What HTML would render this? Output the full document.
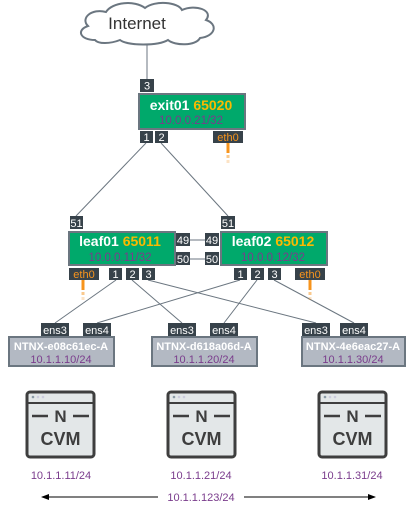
<!DOCTYPE html>
<html><head><meta charset="utf-8"><style>
html,body{margin:0;padding:0;background:#fff;}
svg{display:block;font-family:"Liberation Sans",Arial,sans-serif;}
</style></head><body>
<svg width="407" height="515" viewBox="0 0 407 515" xmlns="http://www.w3.org/2000/svg">
<defs>
<marker id="ah" markerWidth="8" markerHeight="6" refX="7" refY="3" orient="auto"><path d="M0,0 L8,3 L0,6 Z" fill="#000"/></marker>
</defs>
<path d="M95,40 C80,40 76,30 88,26 C80,18 92,8 106,12 C112,2 135,0 145,8 C155,0 178,2 182,10 C195,4 214,10 206,20 C218,24 216,36 200,38 C196,46 175,46 168,40 C158,46 128,46 120,40 C110,44 98,44 95,40 Z" fill="#fff" stroke="#6b7680" stroke-width="2"/>
<text x="137" y="29" font-size="17" fill="#333" text-anchor="middle">Internet</text>
<g stroke="#6b7680" stroke-width="1" fill="none">
<line x1="147" y1="44" x2="147" y2="80"/>
<line x1="146" y1="143" x2="76" y2="216"/>
<line x1="161" y1="143" x2="228" y2="216"/>
<line x1="190" y1="240" x2="205" y2="240"/>
<line x1="190" y1="259" x2="205" y2="259"/>
<line x1="116" y1="280" x2="55" y2="323"/>
<line x1="132" y1="280" x2="182" y2="323"/>
<line x1="148" y1="280" x2="316" y2="323"/>
<line x1="240" y1="280" x2="97" y2="323"/>
<line x1="257" y1="280" x2="224" y2="323"/>
<line x1="274" y1="280" x2="354" y2="323"/>
</g>
<g stroke="#f7941d" stroke-width="3">
<line x1="228" y1="143" x2="228" y2="153"/><line x1="228" y1="155" x2="228" y2="158" opacity="0.5"/><line x1="228" y1="160" x2="228" y2="163" opacity="0.25"/>
<line x1="83" y1="280" x2="83" y2="290"/><line x1="83" y1="292" x2="83" y2="295" opacity="0.5"/><line x1="83" y1="297" x2="83" y2="300" opacity="0.25"/>
<line x1="310" y1="280" x2="310" y2="290"/><line x1="310" y1="292" x2="310" y2="295" opacity="0.5"/><line x1="310" y1="297" x2="310" y2="300" opacity="0.25"/>
</g>
<g stroke="#6b7680" stroke-width="2" fill="#00a96b">
<rect x="139" y="94" width="106" height="35"/>
<rect x="69" y="232" width="106" height="33"/>
<rect x="221" y="232" width="106" height="33"/>
</g>
<g font-weight="bold" font-size="14" text-anchor="middle">
<text x="191" y="110"><tspan fill="#fff">exit01 </tspan><tspan fill="#fbb900">65020</tspan></text>
<text x="120" y="246"><tspan fill="#fff">leaf01 </tspan><tspan fill="#fbb900">65011</tspan></text>
<text x="273" y="246"><tspan fill="#fff">leaf02 </tspan><tspan fill="#fbb900">65012</tspan></text>
</g>
<g font-size="11.5" fill="#7a3c8c" text-anchor="middle">
<text x="191" y="124">10.0.0.21/32</text>
<text x="120" y="261">10.0.0.11/32</text>
<text x="273" y="261">10.0.0.12/32</text>
</g>
<g fill="#37424a">
<rect x="140" y="79" width="14" height="13"/>
<rect x="140" y="131" width="13" height="12"/><rect x="155" y="131" width="13" height="12"/><rect x="213" y="131" width="30" height="12"/>
<rect x="70" y="216" width="13" height="13"/><rect x="221" y="216" width="14" height="13"/>
<rect x="176" y="233" width="14" height="13"/><rect x="176" y="252" width="14" height="13"/>
<rect x="205" y="233" width="14" height="13"/><rect x="205" y="252" width="14" height="13"/>
<rect x="69" y="268" width="30" height="12"/><rect x="109" y="268" width="13" height="12"/><rect x="126" y="268" width="13" height="12"/><rect x="142" y="268" width="13" height="12"/>
<rect x="234" y="268" width="13" height="12"/><rect x="251" y="268" width="13" height="12"/><rect x="268" y="268" width="13" height="12"/><rect x="295" y="268" width="30" height="12"/>
<rect x="41" y="323" width="28" height="13"/><rect x="83" y="323" width="28" height="13"/>
<rect x="168" y="323" width="28" height="13"/><rect x="210" y="323" width="28" height="13"/>
<rect x="302" y="323" width="28" height="13"/><rect x="340" y="323" width="28" height="13"/>
</g>
<g font-size="11" fill="#fff" text-anchor="middle">
<text x="147" y="89.5">3</text>
<text x="146.5" y="141">1</text><text x="161.5" y="141">2</text>
<text x="76.5" y="227">51</text><text x="228" y="227">51</text>
<text x="183" y="244">49</text><text x="183" y="263">50</text>
<text x="212" y="244">49</text><text x="212" y="263">50</text>
<text x="115.5" y="278">1</text><text x="132.5" y="278">2</text><text x="148.5" y="278">3</text>
<text x="240.5" y="278">1</text><text x="257.5" y="278">2</text><text x="274.5" y="278">3</text>
<text x="55" y="334">ens3</text><text x="97" y="334">ens4</text>
<text x="182" y="334">ens3</text><text x="224" y="334">ens4</text>
<text x="316" y="334">ens3</text><text x="354" y="334">ens4</text>
</g>
<g font-size="11" fill="#f7941d" text-anchor="middle">
<text x="228" y="141">eth0</text><text x="84" y="278">eth0</text><text x="310" y="278">eth0</text>
</g>
<g fill="#b3b9c3" stroke="#6b7680" stroke-width="2">
<rect x="9" y="337" width="105" height="29"/>
<rect x="152" y="337" width="105" height="29"/>
<rect x="302" y="337" width="103" height="29"/>
</g>
<g font-size="11" font-weight="bold" fill="#fff" text-anchor="middle">
<text x="61" y="350">NTNX-e08c61ec-A</text>
<text x="204" y="350">NTNX-d618a06d-A</text>
<text x="353" y="350">NTNX-4e6eac27-A</text>
</g>
<g font-size="11" fill="#7a3c8c" text-anchor="middle">
<text x="61" y="363">10.1.1.10/24</text>
<text x="204" y="363">10.1.1.20/24</text>
<text x="353" y="363">10.1.1.30/24</text>
</g>
<g id="cvm">
<rect x="27" y="392" width="67" height="65" rx="3" fill="#e3e7e8" stroke="#3e3e3e" stroke-width="3"/>
<line x1="27" y1="403" x2="94" y2="403" stroke="#3e3e3e" stroke-width="2"/>
<circle cx="33" cy="397" r="1.3" fill="#8a9aa6"/><circle cx="38" cy="397" r="1.3" fill="#ccd"/><circle cx="43" cy="397" r="1.3" fill="#ccd"/>
<line x1="32" y1="416" x2="48" y2="416" stroke="#3e3e3e" stroke-width="2.5"/>
<line x1="73" y1="416" x2="89" y2="416" stroke="#3e3e3e" stroke-width="2.5"/>
<text x="60.5" y="422" font-size="17" font-weight="bold" fill="#3e3e3e" text-anchor="middle">N</text>
<text x="60.5" y="445" font-size="18" font-weight="bold" fill="#3e3e3e" text-anchor="middle">CVM</text>
</g>
<use href="#cvm" x="141"/>
<use href="#cvm" x="292"/>
<g font-size="11" fill="#7a3c8c" text-anchor="middle">
<text x="61" y="479">10.1.1.11/24</text>
<text x="201" y="479">10.1.1.21/24</text>
<text x="352" y="479">10.1.1.31/24</text>
<text x="201" y="501">10.1.1.123/24</text>
</g>
<line x1="158" y1="497" x2="42" y2="497" stroke="#000" stroke-width="1" marker-end="url(#ah)"/>
<line x1="244" y1="497" x2="375" y2="497" stroke="#000" stroke-width="1" marker-end="url(#ah)"/>
</svg>
</body></html>
